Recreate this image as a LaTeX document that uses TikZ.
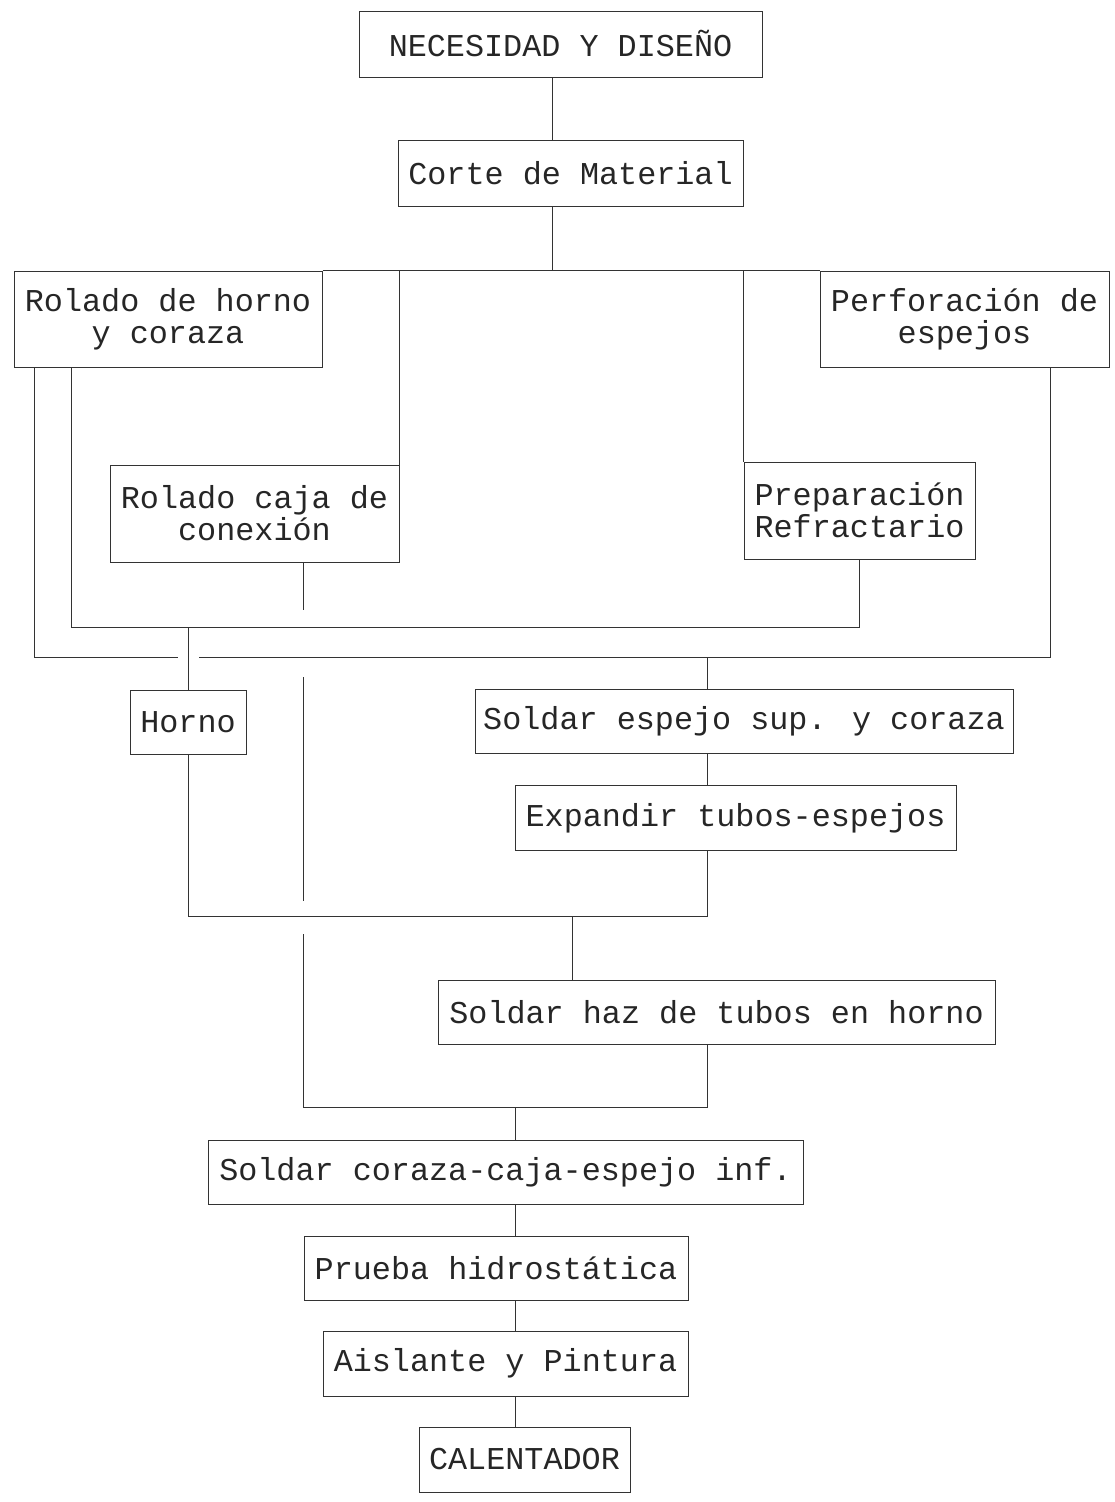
\documentclass[tikz,border=0pt]{standalone}
\usepackage{fontspec}
\newfontfamily\procfont{Liberation Mono}
\usetikzlibrary{positioning}

\begin{document}
\begin{tikzpicture}[
        x=1pt, y=-1pt,
        line width=1pt,
        draw=black!80,
        paso/.style={
            rectangle,
            draw=black!80,
            line width=1pt,
            inner sep=2pt,
            align=center,
            text=black!85,
            font=\procfont\fontsize{31.8}{32}\selectfont
        }
    ]

    \useasboundingbox (0,0) rectangle (1114,1502);

    % cajas del proceso
    \node[paso, minimum width=403, minimum height=66] (nec) at (560.5, 44) {NECESIDAD Y DISEÑO};
    \node[paso, minimum width=345, minimum height=66] (corte) at (570.5, 173) {Corte de Material};

    \node[paso, minimum width=308, minimum height=96] (rhorno) at (168, 319) {Rolado de horno\\y coraza};
    \node[paso, minimum width=289, minimum height=96] (perf) at (964.5, 319) {Perforación de\\espejos};
    \node[paso, minimum width=289, minimum height=97] (rcaja) at (254.5, 513.5) {Rolado caja de\\conexión};
    \node[paso, minimum width=231, minimum height=97] (prep) at (859.5, 510.5) {Preparación\\Refractario};

    \node[paso, minimum width=116, minimum height=64] (horno) at (188, 722.5) {Horno};
    \node[paso, minimum width=538, minimum height=64] (sesp) at (744, 721) {Soldar espejo sup. y coraza};
    \node[paso, minimum width=441, minimum height=65] (expand) at (735.5, 818) {Expandir tubos-espejos};
    \node[paso, minimum width=557, minimum height=64] (shaz) at (716.5, 1012) {Soldar haz de tubos en horno};

    \node[paso, minimum width=595, minimum height=64] (scoraza) at (505.5, 1172) {Soldar coraza-caja-espejo inf.};
    \node[paso, minimum width=384, minimum height=64] (prueba) at (496, 1268) {Prueba hidrostática};
    \node[paso, minimum width=365, minimum height=65] (aisl) at (505.5, 1363.5) {Aislante y Pintura};
    \node[paso, minimum width=211, minimum height=65] (calent) at (524.5, 1459.5) {CALENTADOR};

    % puntos de union
    \coordinate (tc) at (552, 271);
    \coordinate (ja) at (71, 627);
    \coordinate (jb) at (34, 657);
    \coordinate (jp) at (1050, 657);
    \coordinate (jm) at (707, 657);
    \coordinate (g1) at (178, 657);
    \coordinate (g2) at (199, 657);
    \coordinate (jh) at (707, 916);
    \coordinate (js) at (572, 916);
    \coordinate (cj) at (303, 1107);
    \coordinate (jd) at (707, 1107);
    \coordinate (je) at (515, 1107);
    \coordinate (h1) at (303, 610);
    \coordinate (h2) at (303, 677);
    \coordinate (h3) at (303, 901);
    \coordinate (h4) at (303, 934);

    % tronco superior
    \draw (nec.south -| tc) -- (corte.north -| tc);
    \draw (corte.south -| tc) -- (tc);
    \draw (rhorno.north east) -- (perf.north west);
    \draw (rcaja.north east) -- (rcaja.north east |- tc);
    \draw (prep.north west) -- (prep.north west |- tc);

    % ramas laterales
    \draw (rhorno.south -| ja) -- (ja) -- (ja -| prep.south) -- (prep.south);
    \draw (rhorno.south -| jb) -- (jb) -- (g1);
    \draw (g2) -- (jp) -- (perf.south -| jp);
    \draw (horno.north) -- (horno.north |- ja);

    % caja de conexion (salta las lineas)
    \draw (rcaja.south -| h1) -- (h1);
    \draw (h2) -- (h3);
    \draw (h4) -- (cj) -- (jd) -- (shaz.south -| jd);

    % rama derecha
    \draw (jm) -- (sesp.north -| jm);
    \draw (sesp.south -| jm) -- (expand.north -| jm);
    \draw (expand.south -| jh) -- (jh) -- (jh -| horno.south) -- (horno.south);
    \draw (js) -- (shaz.north -| js);

    % tramo final
    \draw (je) -- (scoraza.north -| je);
    \draw (scoraza.south -| je) -- (prueba.north -| je);
    \draw (prueba.south -| je) -- (aisl.north -| je);
    \draw (aisl.south -| je) -- (calent.north -| je);

\end{tikzpicture}
\end{document}
